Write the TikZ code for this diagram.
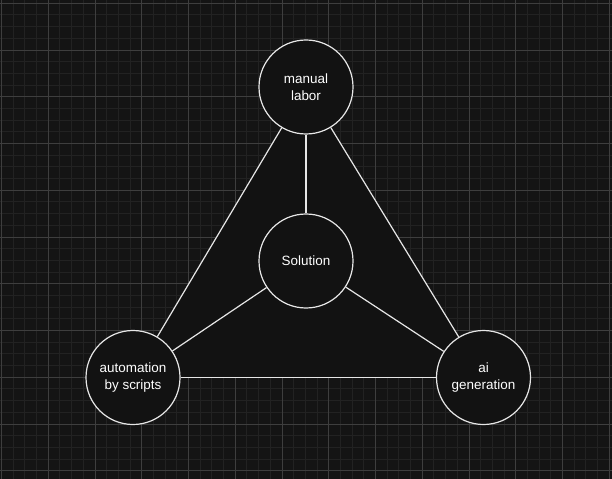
\documentclass[tikz,border=0pt]{standalone}
\usepackage{fontspec}
\setmainfont{Liberation Sans}
\usetikzlibrary{positioning,backgrounds}
\definecolor{canvas}{HTML}{141414}
\definecolor{nodefill}{HTML}{121212}
\definecolor{minorgrid}{HTML}{222222}
\definecolor{majorgrid}{HTML}{3E3E3E}
\definecolor{stroke}{HTML}{E6E6E6}

\begin{document}
\begin{tikzpicture}[x=1bp, y=-1bp,
roundnode/.style={circle, draw=stroke, fill=nodefill, line width=1.2bp, minimum size=94bp, inner sep=0pt,
  text=white, align=center, font=\fontsize{13.5}{16.5}\selectfont},
edgeline/.style={draw=stroke, line width=1.2bp}
]
    \useasboundingbox (0,0) rectangle (612,479);

    %Nodes
    \node[roundnode] (solution) at (306,261)   {Solution};
    \node[roundnode] (manual)   at (306,87)    {manual\\labor};
    \node[roundnode] (scripts)  at (133,377.5) {automation\\by scripts};
    \node[roundnode] (aigen)    at (483.5,377.5) {ai\\generation};

    %Lines
    \draw[edgeline] (manual) -- (solution);
    \draw[edgeline] (manual) -- (scripts);
    \draw[edgeline] (manual) -- (aigen);
    \draw[edgeline] (solution) -- (scripts);
    \draw[edgeline] (solution) -- (aigen);
    \draw[edgeline] (scripts) -- (aigen);

    %Grid and backdrop
    \begin{scope}[on background layer]
        \fill[canvas] (0,0) rectangle (612,479);
        \foreach \i in {0,...,52}
            \draw[minorgrid, line width=1bp] ({1.5+\i*11.6875},0) -- ++(0,479);
        \foreach \i in {0,...,40}
            \draw[minorgrid, line width=1bp] (0,{3.3+\i*11.6875}) -- ++(612,0);
        \foreach \i in {0,...,13}
            \draw[majorgrid, line width=1bp] ({1.5+\i*46.75},0) -- ++(0,479);
        \foreach \i in {0,...,10}
            \draw[majorgrid, line width=1bp] (0,{3.3+\i*46.75}) -- ++(612,0);
        \fill[nodefill] (manual.center) -- (scripts.center) -- (aigen.center) -- cycle;
    \end{scope}
\end{tikzpicture}
\end{document}
